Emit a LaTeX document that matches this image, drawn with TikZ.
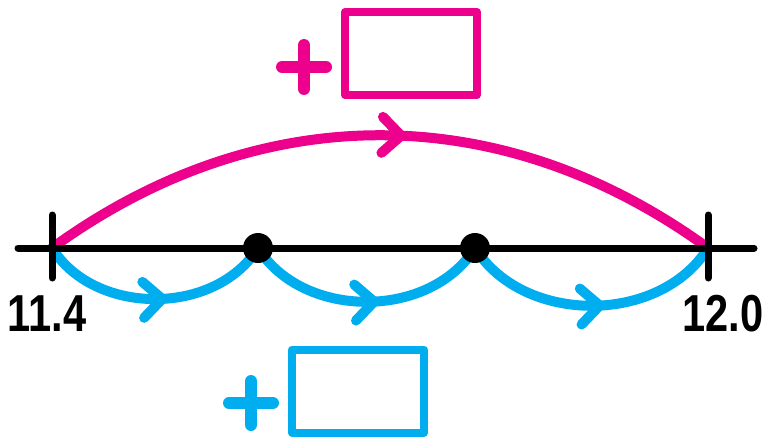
\documentclass[tikz,border=0pt]{standalone}
\usepackage{fontspec}
\newfontfamily\labelfont[FakeStretch=0.8]{Liberation Sans}
\usetikzlibrary{decorations.markings}
\definecolor{jumppink}{RGB}{236,0,140}
\definecolor{jumpblue}{RGB}{0,174,239}

\begin{document}
\begin{tikzpicture}[x=1pt,y=-1pt,line cap=round,line join=round,
    axis/.style={line width=7pt},
    dot/.style={circle,fill,inner sep=0pt,minimum size=30pt},
    jump/.style={draw=#1,line width=10pt,postaction={decorate},
      decoration={markings,mark=at position 0.53 with
        {\draw[#1,line width=10pt] (-19pt,18pt) -- (0pt,0pt) -- (-19pt,-18pt);}}},
    answerbox/.style={draw=#1,line width=8pt,minimum width=132pt,minimum height=83pt},
    plussign/.style={draw=#1,line width=12pt},
    numlabel/.style={font=\labelfont\bfseries\fontsize{52}{52}\selectfont}]
    \useasboundingbox (0,0) rectangle (773,436);
    \coordinate (start) at (52,248);
    \coordinate (p1) at (258,248);
    \coordinate (p2) at (475,248);
    \coordinate (end) at (708,248);
    \coordinate (lineL) at (18,248);
    \coordinate (lineR) at (754,248);
    % one big jump above, three small jumps below
    \draw[jump=jumppink] (start) to[out=36,in=144] (end);
    \draw[jump=jumpblue] (start) to[out=-58,in=-122] (p1);
    \draw[jump=jumpblue] (p1) to[out=-58,in=-122] (p2);
    \draw[jump=jumpblue] (p2) to[out=-58,in=-122] (end);
    % number line
    \draw[axis] (lineL) -- (lineR);
    \draw[axis] ([yshift=33pt]start) -- ([yshift=-30pt]start);
    \draw[axis] ([yshift=33pt]end) -- ([yshift=-30pt]end);
    \node[dot] (d1) at (p1) {};
    \node[dot] (d2) at (p2) {};
    \node[numlabel] (lo) at (47,314) {11.4};
    \node[numlabel] (hi) at (723,314) {12.0};
    % boxes to fill in
    \node[answerbox=jumppink] (bigbox) at (411,53.5) {};
    \node[answerbox=jumpblue] (smallbox) at (358,391) {};
    \coordinate (bigplus) at (304,67);
    \coordinate (smallplus) at (251,403);
    \draw[plussign=jumppink] ([xshift=-22pt]bigplus) -- ([xshift=22pt]bigplus);
    \draw[plussign=jumppink] ([yshift=-22pt]bigplus) -- ([yshift=22pt]bigplus);
    \draw[plussign=jumpblue] ([xshift=-22pt]smallplus) -- ([xshift=22pt]smallplus);
    \draw[plussign=jumpblue] ([yshift=-22pt]smallplus) -- ([yshift=22pt]smallplus);
\end{tikzpicture}
\end{document}
